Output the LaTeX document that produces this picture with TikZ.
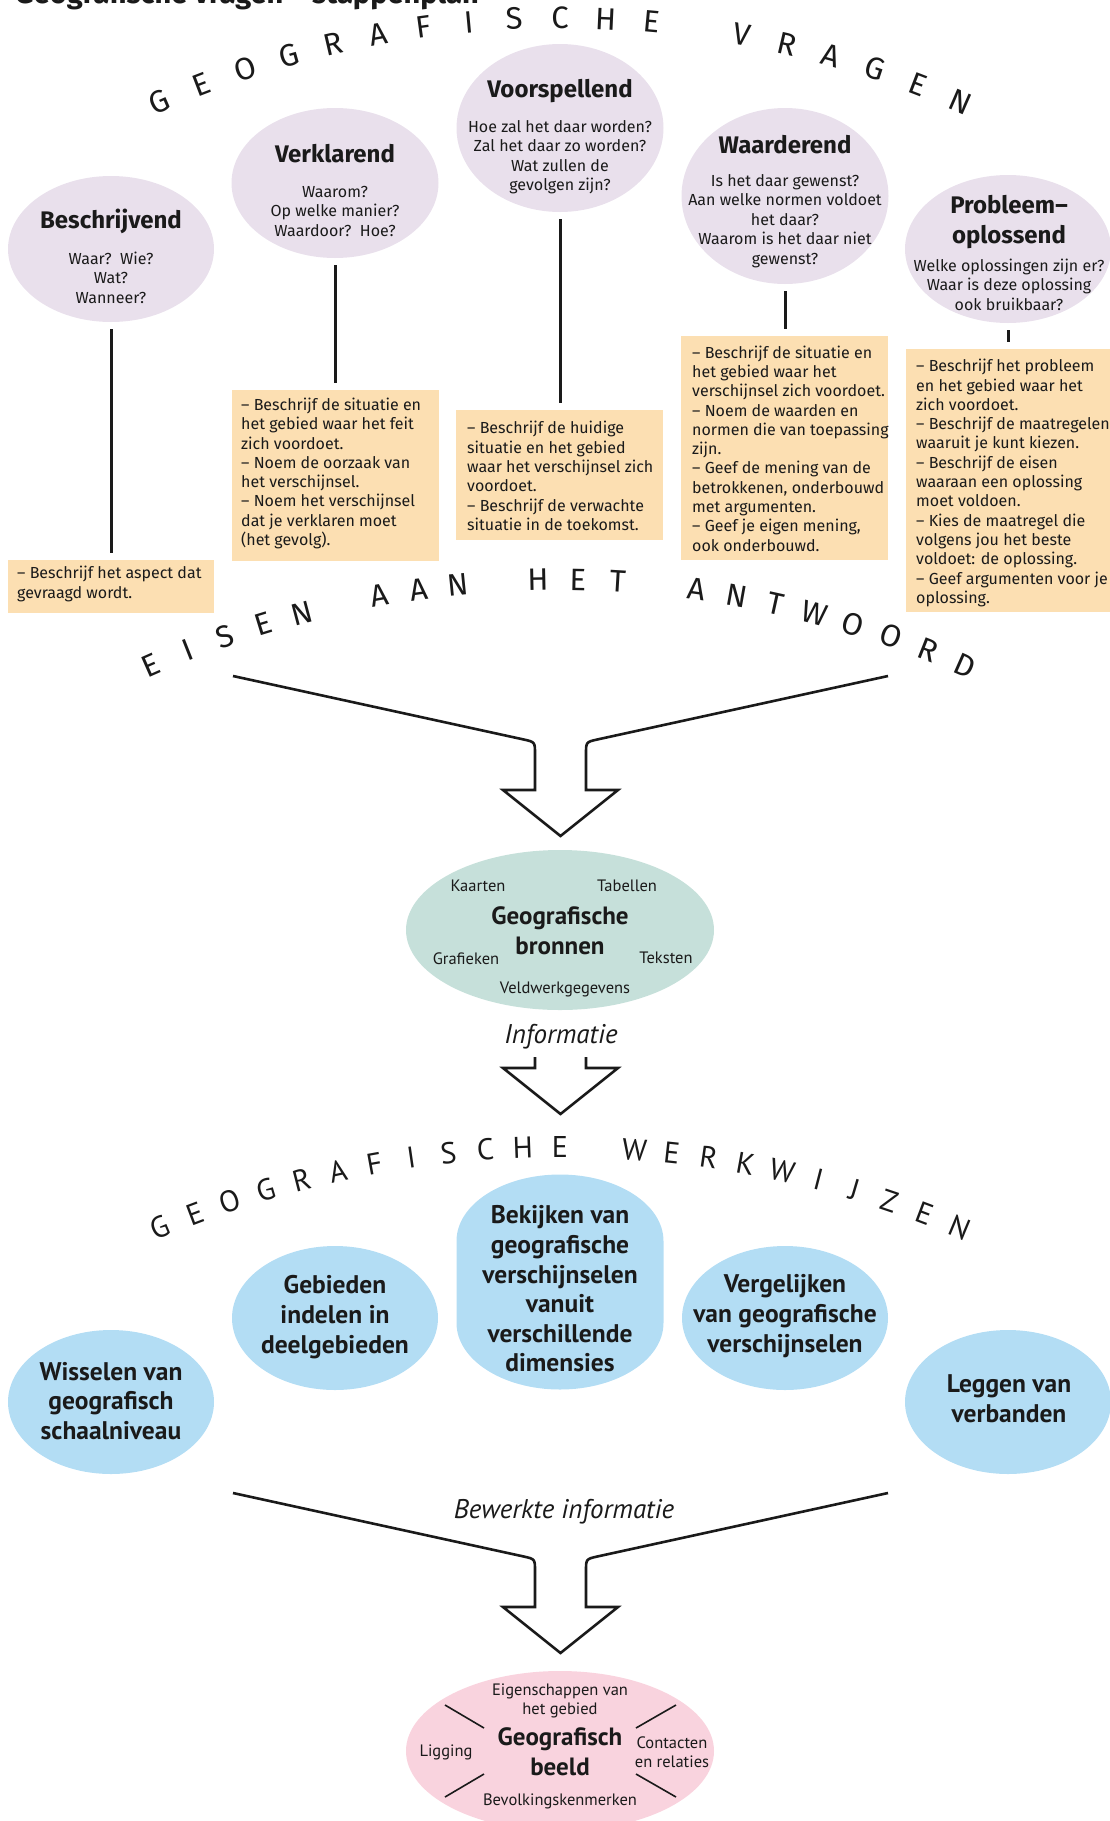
\documentclass[tikz,border=0pt]{standalone}
\usepackage{fontspec}
\setmainfont{Fira Sans}
\newfontfamily\pts{PT Sans}
\usetikzlibrary{shapes.geometric}
\definecolor{qpurple}{HTML}{E9E0EC}
\definecolor{qorange}{HTML}{FCDFB2}
\definecolor{qteal}{HTML}{C6E0DA}
\definecolor{qblue}{HTML}{B3DDF4}
\definecolor{qpink}{HTML}{F9D3DE}
\definecolor{ink}{HTML}{1A1A1A}
\begin{document}
\begin{tikzpicture}[x=1pt,y=-1pt,
  qell/.style={ellipse, fill=qpurple, inner sep=0pt},
  bell/.style={ellipse, fill=qblue, inner sep=0pt, minimum width=206pt, minimum height=144pt},
  obox/.style={rectangle, fill=qorange, inner sep=0pt, anchor=north west},
  ttl/.style={font=\fontsize{24}{30}\selectfont\bfseries, inner sep=0pt, align=center, text=ink},
  qtxt/.style={font=\fontsize{16}{19.5}\selectfont, inner sep=0pt, align=center, text=ink},
  btxt/.style={font=\fontsize{16}{19.3}\selectfont, inner sep=0pt, align=left, anchor=west, text=ink},
  wtxt/.style={font=\pts\fontsize{25.5}{29.6}\selectfont\bfseries, inner sep=0pt, align=center, text=ink},
  stxt/.style={font=\pts\fontsize{16.5}{18.5}\selectfont, inner sep=0pt, align=center, text=ink},
  mtxt/.style={font=\pts\fontsize{25}{30}\selectfont\bfseries, inner sep=0pt, align=center, text=ink},
  itxt/.style={font=\pts\fontsize{27}{30}\selectfont\itshape, inner sep=0pt, text=ink},
  arcA/.style={font=\fontsize{31}{31}\selectfont, inner sep=0pt, text height=21pt, text depth=0pt, text=ink},
  arcB/.style={font=\pts\fontsize{30}{30}\selectfont, inner sep=0pt, text height=21pt, text depth=0pt, text=ink},
  conn/.style={line width=3pt, draw=ink, shorten <=7pt, shorten >=7pt},
  bigarrow/.style={line width=2.6pt, draw=ink, line join=miter},
  spoke/.style={line width=1.6pt, draw=ink},
]
\useasboundingbox (0,0) rectangle (1110,1821);

% title (partly cut off at the top)
\node[font=\fontsize{29}{29}\selectfont\bfseries, anchor=base west, inner sep=0pt, text=ink] (title) at (15,3) {Geografische vragen – stappenplan};

% ---------- arc: GEOGRAFISCHE VRAGEN ----------
\foreach \L [count=\i from 0] in {G,E,O,G,R,A,F,I,S,C,H,E,{},V,R,A,G,E,N} {
  \pgfmathsetmacro\th{(\i-9)*2.62}
  \node[arcA, rotate=-\th] (a1-\i) at ({560+1001*sin(\th)},{1019-1001*cos(\th)}) {\L};
}

% ---------- question ellipses ----------
\node[qell, minimum width=206pt, minimum height=146pt] (e1) at (111,249) {};
\node[qell, minimum width=207pt, minimum height=150pt] (e2) at (335,183) {};
\node[qell, minimum width=207pt, minimum height=168pt] (e3) at (560,128) {};
\node[qell, minimum width=207pt, minimum height=176pt] (e4) at (785,196) {};
\node[qell, minimum width=206pt, minimum height=148pt] (e5) at (1008,249) {};

\node[ttl] (t1) at (111,221) {Beschrijvend};
\node[qtxt] (q1) at (111,277.5) {Waar?\ \ Wie?\\Wat?\\Wanneer?};
\node[ttl] (t2) at (335,154) {Verklarend};
\node[qtxt] (q2) at (335,211) {Waarom?\\Op welke manier?\\Waardoor?\ \ Hoe?};
\node[ttl] (t3) at (560,91) {Voorspellend};
\node[qtxt] (q3) at (560,157) {Hoe zal het daar worden?\\Zal het daar zo worden?\\Wat zullen de\\gevolgen zijn?};
\node[ttl] (t4) at (785,145) {Waarderend};
\node[qtxt] (q4) at (785,221) {Is het daar gewenst?\\Aan welke normen voldoet\\het daar?\\Waarom is het daar niet\\gewenst?};
\node[ttl] (t5) at (1009,222) {Probleem–\\oplossend};
\node[qtxt] (q5) at (1009,284.5) {Welke oplossingen zijn er?\\Waar is deze oplossing\\ook bruikbaar?};

% ---------- answer boxes ----------
\node[obox, minimum width=206pt, minimum height=53pt] (b1) at (8,560) {};
\node[obox, minimum width=207pt, minimum height=171pt] (b2) at (232,390) {};
\node[obox, minimum width=207pt, minimum height=130pt] (b3) at (456,410) {};
\node[obox, minimum width=207pt, minimum height=224pt] (b4) at (681,336) {};
\node[obox, minimum width=204pt, minimum height=263pt] (b5) at (906,349) {};

\node[btxt] (x1) at (17,584) {– Beschrijf het aspect dat\\gevraagd wordt.};
\node[btxt] (x2) at (241,473.5) {– Beschrijf de situatie en\\het gebied waar het feit\\zich voordoet.\\– Noem de oorzaak van\\het verschijnsel.\\– Noem het verschijnsel\\dat je verklaren moet\\(het gevolg).};
\node[btxt] (x3) at (467,476) {– Beschrijf de huidige\\situatie en het gebied\\waar het verschijnsel zich\\voordoet.\\– Beschrijf de verwachte\\situatie in de toekomst.};
\node[btxt] (x4) at (692,448.5) {– Beschrijf de situatie en\\het gebied waar het\\verschijnsel zich voordoet.\\– Noem de waarden en\\normen die van toepassing\\zijn.\\– Geef de mening van de\\betrokkenen, onderbouwd\\met argumenten.\\– Geef je eigen mening,\\ook onderbouwd.};
\node[btxt] (x5) at (916,483) {– Beschrijf het probleem\\en het gebied waar het\\zich voordoet.\\– Beschrijf de maatregelen\\waaruit je kunt kiezen.\\– Beschrijf de eisen\\waaraan een oplossing\\moet voldoen.\\– Kies de maatregel die\\volgens jou het beste\\voldoet: de oplossing.\\– Geef argumenten voor je\\oplossing.};

% connectors
\draw[conn] (e1.south) -- (e1.south |- b1.north);
\draw[conn] (e2.south) -- (e2.south |- b2.north);
\draw[conn] (e3.south) -- (e3.south |- b3.north);
\draw[conn] (e4.south) -- (e4.south |- b4.north);
\draw[conn] (e5.south) -- (e5.south |- b5.north);

% ---------- arc: EISEN AAN HET ANTWOORD ----------
\foreach \L [count=\i from 0] in {E,I,S,E,N,{},A,A,N,{},H,E,T,{},A,N,T,W,O,O,R,D} {
  \pgfmathsetmacro\th{(\i-10.5)*2.27}
  \node[arcA, rotate=-\th] (a2-\i) at ({558+1007*sin(\th)},{1587-1007*cos(\th)}) {\L};
}

% ---------- big arrow 1 ----------
\draw[bigarrow] (233,676) -- (523.3,739.4) .. controls (535,742) .. (535,754) -- (535,790) -- (503,790) -- (560.5,836) -- (618,790) -- (586,790) -- (586,754) .. controls (586,742) .. (597.7,739.4) -- (888,676);

% ---------- sources ----------
\node[ellipse, fill=qteal, minimum width=308pt, minimum height=160pt, inner sep=0pt] (src) at (560,930) {};
\node[mtxt] (srcT) at (560,931) {Geografische\\bronnen};
\node[stxt] (s1) at (478,886) {Kaarten};
\node[stxt] (s2) at (627,886) {Tabellen};
\node[stxt] (s3) at (466,959) {Grafieken};
\node[stxt] (s4) at (666,958) {Teksten};
\node[stxt] (s5) at (565,989) {Veldwerkgegevens};

\node[itxt] (info) at (561,1037) {Informatie};

% small arrow 2
\draw[bigarrow] (535,1057) -- (535,1068) -- (503,1068) -- (560.5,1114) -- (618,1068) -- (586,1068) -- (586,1057);

% ---------- arc: GEOGRAFISCHE WERKWIJZEN ----------
\foreach \L [count=\i from 0] in {G,E,O,G,R,A,F,I,S,C,H,E,{},W,E,R,K,W,I,J,Z,E,N} {
  \pgfmathsetmacro\th{(\i-11)*2.064}
  \node[arcB, rotate=-\th] (a3-\i) at ({560+1036*sin(\th)},{2183-1036*cos(\th)}) {\L};
}

% ---------- methods ----------
\node[bell] (w1) at (111,1402) {};
\node[bell] (w2) at (335,1318) {};
\fill[qblue] (456.5,1241) arc[start angle=180, end angle=360, x radius=103.5, y radius=66.5] -- (663.5,1323) arc[start angle=0, end angle=180, x radius=103.5, y radius=66.5] -- cycle;
\coordinate (w3) at (560,1282);
\node[bell] (w4) at (785,1318) {};
\node[bell] (w5) at (1008,1402) {};

\node[wtxt] (wt1) at (111,1401) {Wisselen van\\geografisch\\schaalniveau};
\node[wtxt] (wt2) at (335,1317) {Gebieden\\indelen in\\deelgebieden};
\node[wtxt] (wt3) at (560,1289) {Bekijken van\\geografische\\verschijnselen\\vanuit\\verschillende\\dimensies};
\node[wtxt] (wt4) at (785,1316) {Vergelijken\\van geografische\\verschijnselen};
\node[wtxt] (wt5) at (1009,1399) {Leggen van\\verbanden};

% ---------- big arrow 3 ----------
\draw[bigarrow] (233,1493) -- (523.3,1556.4) .. controls (535,1559) .. (535,1571) -- (535,1607) -- (503,1607) -- (560.5,1653) -- (618,1607) -- (586,1607) -- (586,1571) .. controls (586,1559) .. (597.7,1556.4) -- (888,1493);
\node[itxt] (bw) at (564,1512) {Bewerkte informatie};

% ---------- geographic picture ----------
\node[ellipse, fill=qpink, minimum width=308pt, minimum height=160pt, inner sep=0pt] (img) at (560,1751) {};
\node[mtxt] (imgT) at (560,1752) {Geografisch\\beeld};
\node[stxt] (p1) at (560,1701) {Eigenschappen van\\het gebied};
\node[stxt] (p2) at (446,1752) {Ligging};
\node[stxt] (p3) at (672,1752) {Contacten\\en relaties};
\node[stxt] (p4) at (560,1801) {Bevolkingskenmerken};
\draw[spoke] (445,1705) -- (484,1728);
\draw[spoke] (445,1797) -- (484,1774);
\draw[spoke] (676,1705) -- (636,1728);
\draw[spoke] (676,1797) -- (636,1774);
\end{tikzpicture}
\end{document}
